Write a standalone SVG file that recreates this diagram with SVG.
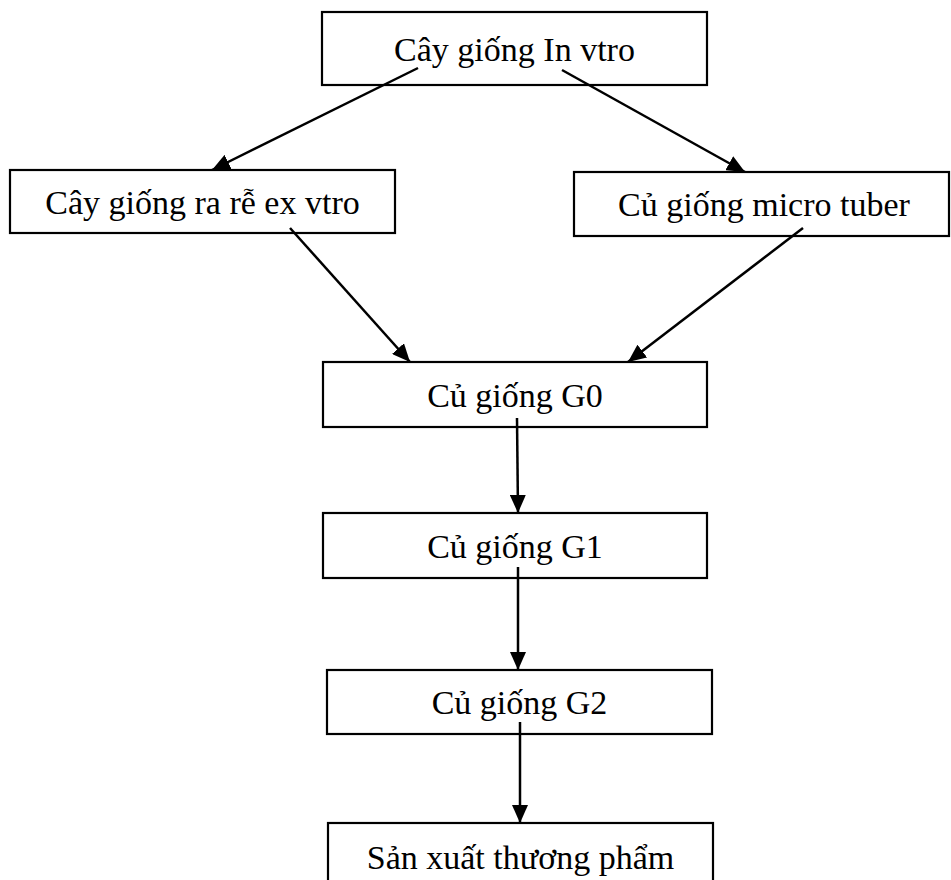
<svg xmlns="http://www.w3.org/2000/svg" width="951" height="880" viewBox="0 0 951 880">
<style>
.box{fill:#fff;stroke:#000;stroke-width:2.2}
.lbl{font-family:"Liberation Serif","Times New Roman",serif;font-size:34px;fill:#000;text-anchor:middle}
.con line{stroke:#000;stroke-width:2.5;marker-end:url(#ah)}
</style>
<defs>
<marker id="ah" markerUnits="userSpaceOnUse" markerWidth="18" markerHeight="16" viewBox="0 0 18 16" refX="18" refY="8" orient="auto">
<path d="M0,0 L18,8 L0,16 Z" fill="#000"/>
</marker>
</defs>
<rect width="951" height="880" fill="#fff"/>
<g id="n1"><rect class="box" x="322" y="12" width="385" height="73"/><text class="lbl" x="514.5" y="61">Cây giống In vtro</text></g>
<g id="n2"><rect class="box" x="10" y="170" width="385" height="63"/><text class="lbl" x="202.5" y="214">Cây giống ra rễ ex vtro</text></g>
<g id="n3"><rect class="box" x="574" y="172" width="375" height="64"/><text class="lbl" x="764" y="216">Củ giống micro tuber</text></g>
<g id="n4"><rect class="box" x="323" y="362" width="384" height="65"/><text class="lbl" x="515" y="407">Củ giống G0</text></g>
<g id="n5"><rect class="box" x="323" y="513" width="384" height="65"/><text class="lbl" x="515" y="558">Củ giống G1</text></g>
<g id="n6"><rect class="box" x="327" y="670" width="385" height="64"/><text class="lbl" x="519.5" y="714">Củ giống G2</text></g>
<g id="n7"><rect class="box" x="328" y="823" width="385" height="70"/><text class="lbl" x="520.5" y="869">Sản xuất thương phẩm</text></g>
<g id="connectors" class="con">
<line x1="418" y1="68" x2="212" y2="170"/>
<line x1="562" y1="70" x2="745" y2="172"/>
<line x1="290" y1="228" x2="410" y2="362"/>
<line x1="803" y1="228" x2="628" y2="362"/>
<line x1="517" y1="418" x2="518" y2="513"/>
<line x1="518" y1="567" x2="518" y2="670"/>
<line x1="520" y1="722" x2="520" y2="823"/>
</g>
</svg>
